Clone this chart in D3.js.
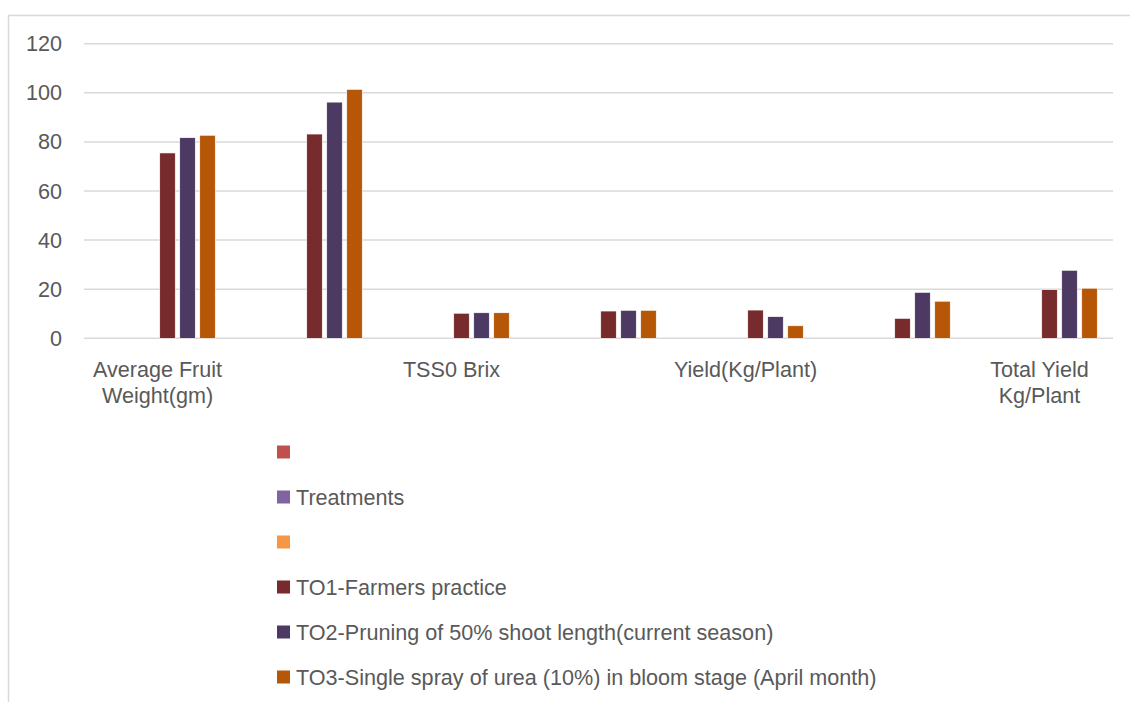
<!DOCTYPE html>
<html>
<head>
<meta charset="utf-8">
<script src="https://cdn.jsdelivr.net/npm/d3@7"></script>
<style>
  body { margin: 0; background: #fff; }
  svg text { font-family: "Liberation Sans Narrow", "Liberation Sans", Arial, sans-serif; fill: #595959; }
</style>
</head>
<body>
<svg id="chart"></svg>
<script>
const width = 1130, height = 702;

// categories (Excel only shows every second label)
const categories = ["Average Fruit Weight(gm)", "", "TSS0 Brix", "", "Yield(Kg/Plant)", "", "Total Yield Kg/Plant"];
const categoryLines = [["Average Fruit", "Weight(gm)"], [], ["TSS0 Brix"], [], ["Yield(Kg/Plant)"], [], ["Total Yield", "Kg/Plant"]];

// series : les 3 premières sont vides
const seriesNames = ["", "Treatments", "", "TO1-Farmers practice", "TO2-Pruning of 50% shoot length(current season)", "TO3-Single spray of urea (10%) in bloom stage (April month)"];
const seriesColors = ["#C0504D", "#8064A2", "#F79646", "#772B2C", "#4C3A62", "#B65708"];

const to1 = [75.5, 83.2, 10.2, 11.1, 11.5, 8.1, 19.8];
const to2 = [81.7, 96.2, 10.4, 11.4, 8.8, 18.7, 27.7];
const to3 = [82.7, 101.4, 10.4, 11.4, 5.1, 15.1, 20.4];
const seriesValues = [[], [], [], to1, to2, to3];

const yTicks = [0, 20, 40, 60, 80, 100, 120];

const fontSize = 21.6;

const svg = d3.select("#chart")
    .attr("width", width)
    .attr("height", height);

// cadre du graphique
svg.append("path")
    .attr("d", `M1130,15.5 H8.5 V702`)
    .attr("fill", "none")
    .attr("stroke", "#d9d9d9")
    .attr("stroke-width", 1.5);

const plotLeft = 84, plotRight = 1113, plotTop = 43.7, plotBottom = 338.3;

const x0 = d3.scaleBand()
    .domain(d3.range(categories.length))
    .range([plotLeft, plotRight])
    .padding(0);

const x1 = d3.scaleBand()
    .domain(d3.range(seriesNames.length))
    .range([0, x0.bandwidth()])
    .paddingInner(0.225)
    .paddingOuter(0.7875);

const y = d3.scaleLinear()
    .domain([0, 120])
    .range([plotBottom, plotTop]);

// lignes de grille
svg.selectAll(".grid")
    .data(yTicks)
    .enter().append("line")
    .attr("class", "grid")
    .attr("x1", plotLeft)
    .attr("x2", plotRight)
    .attr("y1", d => y(d))
    .attr("y2", d => y(d))
    .attr("stroke", "#d9d9d9")
    .attr("stroke-width", 1.5);

// étiquettes de l'axe Y
svg.selectAll(".ytick")
    .data(yTicks)
    .enter().append("text")
    .attr("class", "ytick")
    .attr("x", 62)
    .attr("y", d => y(d))
    .attr("dy", "0.35em")
    .attr("text-anchor", "end")
    .attr("font-size", fontSize)
    .text(d => d);

// barres
seriesValues.forEach((vals, s) => {
    svg.selectAll(".bar-s" + s)
        .data(vals)
        .enter().append("rect")
        .attr("class", "bar-s" + s)
        .attr("x", (d, i) => x0(i) + x1(s))
        .attr("width", x1.bandwidth())
        .attr("y", d => y(d))
        .attr("height", d => y(0) - y(d))
        .attr("fill", seriesColors[s])
        .attr("stroke", "#fff")
        .attr("stroke-width", 0.6);
});

// étiquettes des catégories
const cat = svg.selectAll(".cat")
    .data(categoryLines)
    .enter().append("text")
    .attr("class", "cat")
    .attr("text-anchor", "middle")
    .attr("font-size", fontSize)
    .attr("x", (d, i) => x0(i) + x0.bandwidth() / 2)
    .attr("y", 377);

cat.selectAll("tspan")
    .data(d => d)
    .enter().append("tspan")
    .attr("x", function() { return this.parentNode.getAttribute("x"); })
    .attr("dy", (d, i) => i === 0 ? 0 : 26)
    .text(d => d);

// légende
const legend = svg.selectAll(".legend")
    .data(seriesNames)
    .enter().append("g")
    .attr("class", "legend")
    .attr("transform", (d, i) => `translate(277, ${452 + i * 45})`);

legend.append("rect")
    .attr("x", 0)
    .attr("y", -6.5)
    .attr("width", 13)
    .attr("height", 13)
    .attr("fill", (d, i) => seriesColors[i]);

legend.append("text")
    .attr("x", 19)
    .attr("y", 0)
    .attr("dy", "0.35em")
    .attr("font-size", fontSize)
    .text(d => d);
</script>
</body>
</html>
